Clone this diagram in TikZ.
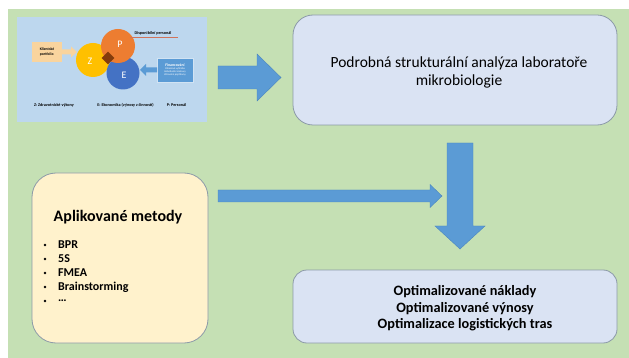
\documentclass[tikz,border=0pt]{standalone}
\usepackage{fontspec}
\setmainfont{Carlito}
\usetikzlibrary{shapes.geometric}
\definecolor{bggreen}{HTML}{C5E0B4}
\definecolor{boxblue}{HTML}{DAE3F3}
\definecolor{boxyellow}{HTML}{FFF2CC}
\definecolor{boxedge}{HTML}{8C9AA8}
\definecolor{arrowblue}{HTML}{5B9BD5}
\definecolor{arrowedge}{HTML}{4A86BF}
\definecolor{imgblue}{HTML}{BDD7EE}
\definecolor{zyellow}{HTML}{FFC000}
\definecolor{porange}{HTML}{ED7D31}
\definecolor{eblue}{HTML}{4472C4}
\definecolor{dbrown}{HTML}{843C0C}
\definecolor{peach}{HTML}{F9D49E}
\definecolor{finblue}{HTML}{5B9BD5}
\definecolor{redline}{HTML}{D0735A}
\tikzset{
  roundbox/.style={draw=boxedge, line width=0.8pt, rounded corners=20pt, inner sep=0pt},
  blockarrow/.style={fill=arrowblue, draw=arrowedge, line width=0.4pt},
  tinytxt/.style={font=\fontsize{4.2}{5}\selectfont\bfseries, inner sep=0pt},
  circtxt/.style={font=\fontsize{10}{11}\selectfont, text=white, inner sep=0pt},
  bullettxt/.style={font=\fontsize{12}{14}\selectfont\bfseries, anchor=west, inner sep=0pt}
}
\begin{document}
\begin{tikzpicture}[x=1pt,y=-1pt]
\useasboundingbox (0,0) rectangle (629,358);
\fill[white] (0,0) rectangle (629,358);
\fill[bggreen] (8,9) rectangle (629,358);

% ---- inner picture (top left) ----
\node[fill=imgblue, minimum width=190pt, minimum height=105pt, inner sep=0pt] (img) at (112,69.5) {};
% Klientske portfolio
\node[fill=peach, minimum width=30pt, minimum height=20pt, inner sep=0pt, align=left,
      font=\fontsize{3.8}{4.4}\selectfont\bfseries] (klient) at (47,52) {Klientské\\portfolio};
\fill[peach] (62,49.5) -- (71,49.5) -- (71,46.5) -- (77,52) -- (71,57.5) -- (71,54.5) -- (62,54.5) -- cycle;
% circles
\node[circle, fill=zyellow, minimum size=34pt, inner sep=0pt] (zc) at (93,60) {};
\node[circle, fill=eblue, minimum size=33pt, inner sep=0pt] (ec) at (123,73) {};
\node[circle, fill=porange, minimum size=34pt, inner sep=0pt] (pc) at (118,46) {};
\node[diamond, fill=dbrown, minimum size=13pt, inner sep=0pt] (dia) at (108,58) {};
\node[circtxt] at (90,61) {Z};
\node[circtxt] at (120,44) {P};
\node[circtxt] at (124,75) {E};
% Disponibilni personal
\node[tinytxt] (disp) at (153,33) {Disponibilní personál};
\draw[redline, line width=0.6pt] (130,37) -- (178,37);
% Financovani
\node[fill=finblue, draw=imgblue!70!white, line width=0.3pt, minimum width=36pt, minimum height=24pt, inner sep=0pt, align=center, text=white,
      font=\fontsize{2.6}{3.2}\selectfont] (fin) at (175,70)
      {{\fontsize{3.9}{4.6}\selectfont\bfseries Financování}\\Úhradová vyhláška\\Individuální smlouvy\\Zdravotní pojišťovny};
\fill[finblue] (157,67.5) -- (146,67.5) -- (146,64) -- (140,70) -- (146,76) -- (146,72.5) -- (157,72.5) -- cycle;
% legend
\node[tinytxt] at (54,105) {Z: Zdravotnické výkony};
\node[tinytxt] at (125.5,105) {E: Ekonomika (výnosy z činností)};
\node[tinytxt] at (176.5,105) {P: Personál};

% ---- boxes ----
\node[roundbox, fill=boxblue, minimum width=324pt, minimum height=110pt, inner sep=0pt] (analysis) at (455,70) {};
\node[align=center, font=\fontsize{15.5}{18}\selectfont, inner sep=0pt] (atext) at (459,72)
      {Podrobná strukturální analýza laboratoře\\mikrobiologie};
\node[roundbox, fill=boxyellow, rounded corners=24pt, minimum width=176pt, minimum height=170pt] (methods) at (120,258) {};
\node[font=\fontsize{16}{18}\selectfont\bfseries, inner sep=0pt] (mtitle) at (118,217) {Aplikované metody};
\foreach \t [count=\i] in {BPR,5S,FMEA,Brainstorming,…}{
  \node[bullettxt] (b\i) at (58,{231+14*\i}) {\t};
  \fill (45,{231+14*\i}) circle (1.4pt);
}
\node[roundbox, fill=boxblue, rounded corners=14pt, minimum width=324pt, minimum height=73pt] (result) at (455,306.5) {};
\node[align=center, font=\fontsize{14.3}{16.5}\selectfont\bfseries, inner sep=0pt] (rtext) at (465,308.5)
      {Optimalizované náklady\\Optimalizované výnosy\\Optimalizace logistických tras};

% ---- block arrows ----
\draw[blockarrow] (218,66) -- (257,66) -- (257,54) -- (281,77.5) -- (257,101) -- (257,89) -- (218,89) -- cycle;
\draw[blockarrow] (218,190) -- (430,190) -- (430,184.5) -- (442,196) -- (430,207.5) -- (430,202) -- (218,202) -- cycle;
\draw[blockarrow] (447,143) -- (473,143) -- (473,226) -- (485,226) -- (460,249) -- (435,226) -- (447,226) -- cycle;
\end{tikzpicture}
\end{document}
